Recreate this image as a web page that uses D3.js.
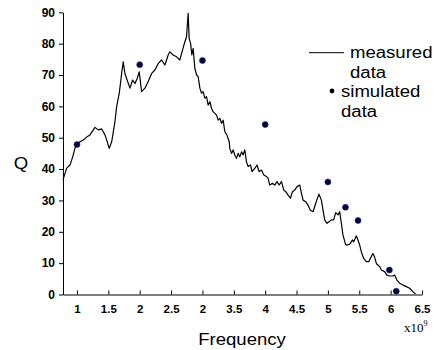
<!DOCTYPE html>
<html>
<head>
<meta charset="utf-8">
<script src="https://cdn.jsdelivr.net/npm/d3@7"></script>
<style>
  body { margin: 0; background: #fff; }
  svg { display: block; }
  .axis text { font-family: "Liberation Sans", Arial, sans-serif; font-size: 11.5px; font-weight: bold; fill: #000; }
  .axis path, .axis line { stroke: #000; stroke-width: 1; }
  .label { font-family: "Liberation Sans", Arial, sans-serif; font-size: 16px; fill: #000; }
  .legend text { font-family: "Liberation Sans", Arial, sans-serif; font-size: 16px; fill: #000; }
</style>
</head>
<body>
<div id="chart"></div>
<script>
// measured curve (frequency in 1e9 units, Q)
const freqMeasured = [
  0.777, 0.793, 0.836, 0.889, 0.932, 0.968, 1.0, 1.048, 1.10, 1.154, 1.207, 1.26, 1.287, 1.339, 1.393, 1.446,
  1.473, 1.514, 1.553, 1.605, 1.632, 1.674, 1.712, 1.737, 1.764, 1.791, 1.844, 1.887, 1.924, 1.96, 1.992, 2.03,
  2.083, 2.135, 2.19, 2.242, 2.295, 2.349, 2.401, 2.454, 2.481, 2.533, 2.588, 2.64, 2.683, 2.72, 2.747, 2.772,
  2.788, 2.811, 2.831, 2.852, 2.879, 2.906, 2.932, 2.959, 2.986, 3.011, 3.038, 3.065, 3.091, 3.118, 3.145, 3.17,
  3.225, 3.25, 3.277, 3.304, 3.33, 3.357, 3.389, 3.427, 3.436, 3.463, 3.489, 3.516, 3.543, 3.569, 3.596, 3.623,
  3.648, 3.675, 3.702, 3.728, 3.766, 3.791, 3.834, 3.871, 3.903, 3.941, 3.978, 4.021, 4.046, 4.073, 4.116, 4.153,
  4.189, 4.221, 4.26, 4.296, 4.328, 4.365, 4.403, 4.435, 4.471, 4.508, 4.551, 4.578, 4.604, 4.646, 4.683, 4.721,
  4.763, 4.806, 4.842, 4.858, 4.896, 4.922, 4.949, 4.986, 5.018, 5.056, 5.092, 5.124, 5.161, 5.188, 5.215, 5.24,
  5.283, 5.32, 5.358, 5.39, 5.411, 5.454, 5.479, 5.506, 5.533, 5.57, 5.613, 5.654, 5.692, 5.718, 5.745, 5.772,
  5.798, 5.825, 5.852, 5.904, 5.941, 5.984, 6.037, 6.064, 6.1, 6.143, 6.196, 6.25, 6.303, 6.355, 6.398
];
const qMeasured = [
  36.5, 37.6, 40.3, 41.3, 43.9, 46.7, 47.8, 48.7, 49.3, 50.2, 50.9, 52.5, 53.3, 52.5, 52.8, 50.9,
  49.3, 46.6, 48.7, 55.1, 59.9, 64.2, 70.5, 74.2, 70.5, 68.9, 65.8, 68.4, 67.3, 68.9, 71.0, 64.7,
  65.8, 67.9, 70.5, 71.6, 73.7, 74.8, 73.2, 76.4, 77.4, 76.4, 75.8, 74.8, 78.0, 80.6, 82.2, 89.7,
  81.7, 80.1, 76.4, 78.5, 72.1, 70.0, 69.5, 65.8, 64.2, 64.7, 62.6, 63.1, 60.4, 61.5, 59.4, 58.3,
  57.2, 55.6, 56.2, 54.6, 55.6, 51.9, 50.9, 48.7, 46.6, 45.0, 46.1, 44.5, 43.4, 45.0, 43.9, 45.5,
  44.5, 46.1, 42.3, 40.8, 41.3, 39.2, 40.2, 41.3, 39.2, 39.7, 38.1, 37.6, 37.1, 34.9, 35.5, 34.9,
  36.0, 34.9, 36.0, 33.3, 32.8, 31.7, 30.7, 32.8, 33.3, 34.4, 34.9, 32.3, 30.1, 29.6, 28.5, 26.9,
  26.4, 29.1, 31.2, 32.0, 30.1, 26.9, 23.8, 22.7, 23.2, 23.8, 23.8, 26.1, 25.4, 26.4, 22.7, 19.0,
  15.8, 15.8, 16.3, 17.4, 16.8, 18.7, 17.4, 15.8, 13.6, 11.5, 10.5, 10.5, 12.1, 13.1, 11.9, 9.9,
  9.4, 8.9, 7.8, 7.3, 6.2, 5.9, 5.9, 6.2, 4.6, 3.6, 3.0, 2.5, 2.0, 0.9, 0.2
];

// simulated points
const freqSimulated = [1, 2, 3, 4, 5, 5.28, 5.48, 5.98, 6.09];
const qSimulated = [47.8, 73.3, 74.6, 54.2, 35.9, 27.8, 23.6, 7.8, 1.05];

// axis ticks, labels exactly as printed on the original
const xTicks = [1, 1.5, 2, 2.5, 3, 3.5, 4, 4.5, 5, 5.5, 6, 6.5];
const xTickLabels = ['1', '1.5', '2', '2.5', '2', '3.5', '4', '4.5', '5', '5.5', '6', '6.5'];
const yTicks = [0, 10, 20, 30, 40, 50, 60, 70, 80, 90];

const width = 439, height = 350;
const margin = { top: 12.3, right: 17, bottom: 55.5, left: 63 };
const innerW = width - margin.left - margin.right;
const innerH = height - margin.top - margin.bottom;
const stretch = 1.16; // the original text is drawn a bit wide

const svg = d3.select('#chart').append('svg')
  .attr('width', width)
  .attr('height', height);

const g = svg.append('g')
  .attr('transform', `translate(${margin.left},${margin.top})`);

const x = d3.scaleLinear().domain([0.777, 6.5]).range([0, innerW]);
const y = d3.scaleLinear().domain([0, 90]).range([innerH, 0]);

g.append('g')
  .attr('class', 'axis axis--x')
  .attr('transform', `translate(0,${innerH})`)
  .call(d3.axisBottom(x)
    .tickValues(xTicks)
    .tickFormat((d, i) => xTickLabels[i])
    .tickSizeInner(-4)
    .tickSizeOuter(0)
    .tickPadding(10));

g.append('g')
  .attr('class', 'axis axis--y')
  .call(d3.axisLeft(y)
    .tickValues(yTicks)
    .tickSizeInner(4)
    .tickSizeOuter(0)
    .tickPadding(4));

g.selectAll('.axis--y text').style('font-size', '12px');

const measured = freqMeasured.map((f, i) => [f, qMeasured[i]]);
const simulated = freqSimulated.map((f, i) => [f, qSimulated[i]]);

const line = d3.line()
  .x(d => x(d[0]))
  .y(d => y(d[1]));

g.append('path')
  .datum(measured)
  .attr('fill', 'none')
  .attr('stroke', '#000')
  .attr('stroke-width', 1.2)
  .attr('stroke-linejoin', 'round')
  .attr('d', line);

g.selectAll('circle.dot')
  .data(simulated)
  .enter()
  .append('circle')
  .attr('class', 'dot')
  .attr('r', 3)
  .attr('cx', d => x(d[0]))
  .attr('cy', d => y(d[1]))
  .attr('fill', '#05052a')
  .attr('stroke', '#2020a0')
  .attr('stroke-width', 0.6);

// text helper, stretched horizontally around its anchor
function wideText(parent, tx, ty, cls, str, anchor) {
  return parent.append('text')
    .attr('class', cls)
    .attr('transform', `translate(${tx},${ty}) scale(${stretch},1)`)
    .attr('text-anchor', anchor || 'start')
    .text(str);
}

// axis titles
wideText(svg, 242, 345, 'label', 'Frequency', 'middle');
wideText(svg, 21, 169, 'label', 'Q', 'middle');

const exp = svg.append('text')
  .attr('x', 404)
  .attr('y', 332)
  .style('font-family', '"Liberation Serif", "Times New Roman", serif')
  .style('font-size', '13px');
exp.append('tspan').text('x10');
exp.append('tspan').attr('dy', -6).style('font-size', '8px').text('9');

// legend
const legend = svg.append('g').attr('class', 'legend');
legend.append('line')
  .attr('x1', 309).attr('x2', 344)
  .attr('y1', 52.7).attr('y2', 52.7)
  .attr('stroke', '#000')
  .attr('stroke-width', 1);
wideText(legend, 350, 57.5, null, 'measured');
wideText(legend, 350, 78, null, 'data');
legend.append('circle')
  .attr('cx', 332).attr('cy', 91).attr('r', 2.4)
  .attr('fill', '#000');
wideText(legend, 341, 97, null, 'simulated');
wideText(legend, 341, 117, null, 'data');
</script>
</body>
</html>
